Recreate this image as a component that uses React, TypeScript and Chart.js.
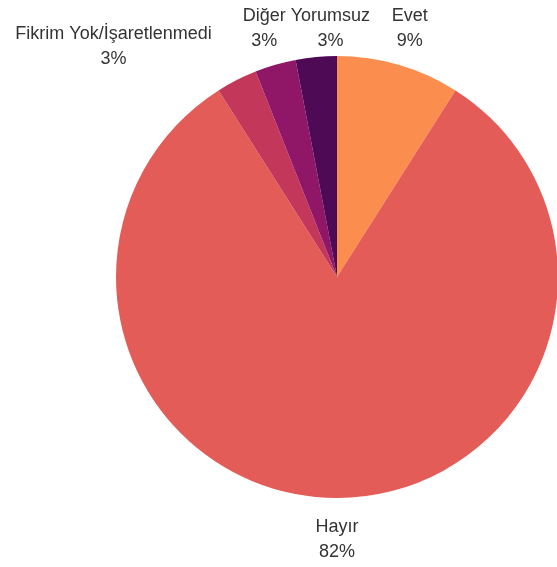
import React, { useEffect, useRef } from "react";
import { Chart, registerables } from "chart.js";

Chart.register(...registerables);

const categories = ["Evet", "Hayır", "Fikrim Yok/İşaretlenmedi", "Diğer", "Yorumsuz"];
const values = [9, 82, 3, 3, 3];
const percentLabels = ["9%", "82%", "3%", "3%", "3%"];
const colors = ["#fb8d4e", "#e35c57", "#c3385a", "#901668", "#4e0a55"];
const labelShiftX = [0, 0, -105, 0, 18];
const labelShiftY = [0, 0, 0, 0, 9];

const labelPlugin = {
  id: "outerLabels",
  afterDatasetsDraw(chart: any) {
    const ctx = chart.ctx;
    const meta = chart.getDatasetMeta(0);
    ctx.save();
    ctx.font = "18px 'Liberation Sans', Arial, sans-serif";
    ctx.fillStyle = "#333333";
    ctx.textAlign = "center";
    ctx.textBaseline = "middle";
    meta.data.forEach((arc: any, i: number) => {
      const { x, y, startAngle, endAngle, outerRadius } = arc.getProps(
        ["x", "y", "startAngle", "endAngle", "outerRadius"],
        true
      );
      const mid = (startAngle + endAngle) / 2;
      const d = outerRadius + 40;
      const lx = x + Math.cos(mid) * d + labelShiftX[i];
      const ly = y + Math.sin(mid) * d + labelShiftY[i] + 2;
      ctx.fillText(categories[i], lx, ly - 12.5);
      ctx.fillText(percentLabels[i], lx, ly + 12.5);
    });
    ctx.restore();
  },
};

export default function App() {
  const ref = useRef<HTMLCanvasElement>(null);
  useEffect(() => {
    if (!ref.current) return;
    const chart = new Chart(ref.current, {
      type: "pie",
      data: {
        labels: categories,
        datasets: [
          {
            data: values,
            backgroundColor: colors,
            borderWidth: 0,
            clip: false,
          } as any,
        ],
      },
      options: {
        responsive: false,
        animation: false,
        radius: 221,
        layout: { padding: { left: 117, right: 0, top: 0, bottom: 13 } },
        plugins: {
          legend: { display: false },
          tooltip: { enabled: false },
        },
      } as any,
      plugins: [labelPlugin],
    });
    return () => chart.destroy();
  }, []);
  return (
    <div style={{ position: "absolute", left: 0, top: 0, width: 557, height: 567, overflow: "hidden", background: "#fff" }}>
      <canvas ref={ref} width={557} height={567} style={{ display: "block" }} />
    </div>
  );
}
